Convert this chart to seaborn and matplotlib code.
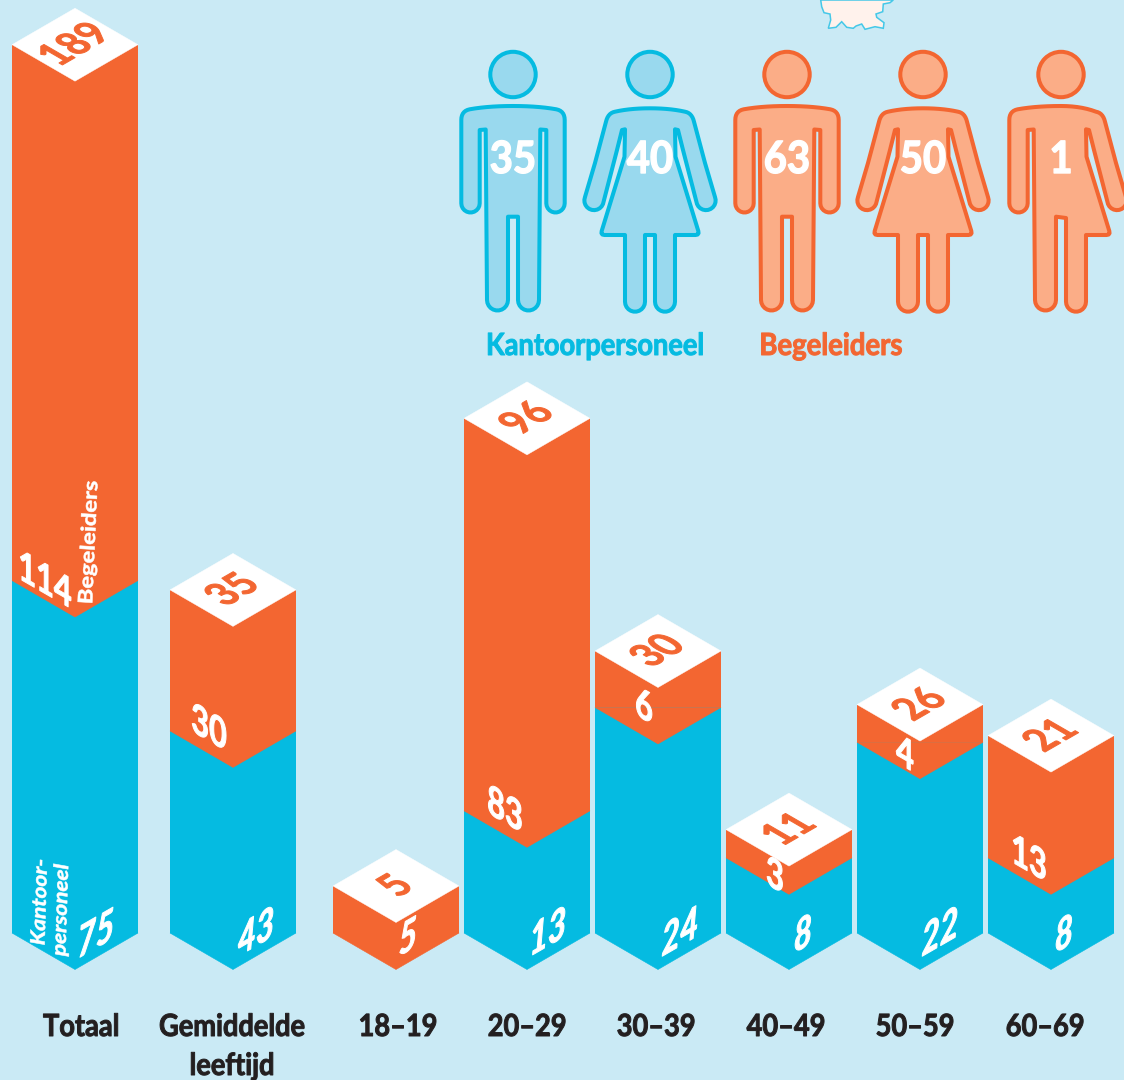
#!/usr/bin/env python
# encoding: utf-8

import numpy as np
import pandas as pd
import matplotlib
matplotlib.use("Agg")
import matplotlib.pyplot as plt
import seaborn as sns
from matplotlib.patches import Polygon, Circle
from matplotlib.patheffects import AbstractPathEffect
from matplotlib.transforms import Affine2D


# Values as printed in the chart
categories = ["Totaal", "Gemiddelde\nleeftijd", "18–19", "20–29", "30–39", "40–49", "50–59", "60–69"]
top_labels = [189, 35, 5, 96, 30, 11, 26, 21]
orange_labels = [114, 30, None, 83, 6, 3, 4, 13]
blue_labels = [75, 43, 5, 13, 24, 8, 22, 8]

# Heights as drawn. The original is not to one scale (age groups are doubled,
# the 83 is not), so these are read off the picture rather than the labels
blue_heights = [75, 43, 0, 26, 48, 16, 40.6, 16]
orange_heights = [114, 30, 10, 83.5, 12, 6, 8, 26]

people_labels = [35, 40, 63, 50, 1]

# Layout, in pixels of the 1124x1080 picture
BAR_X = [75, 233, 396, 527, 658, 789, 920, 1051]
BAR_W = 126
TICK_X = [81, 232, 398, 527, 656, 786, 915, 1045]
BASE_Y = 933
PX_PER_UNIT = 4.7
DEPTH = 36.5
ORANGE_OFFSET = [(-30, 1), (-24, -2), None, (-22, 0), (-14, 0), (-14, 19), (-15, 13), (-22, 2)]
BLUE_OFFSET = [(21, 2), (23, 0), (12, 5), (21, 0), (22, 0), (14, 2), (20, 0), (13, 2)]
PEOPLE_X = [513, 650, 787, 923, 1061]
PEOPLE_KIND = ["man", "woman", "man", "woman", "mixed"]

BG = "#CAEAF5"
ORANGE = "#F36631"
BLUE = "#05BBE1"
ORANGE_SOFT = "#FBAD87"
BLUE_SOFT = "#99D9EE"
DARK = "#231F20"
FONT = "Lato"


class Warp(AbstractPathEffect):
    """Applies a 2x2 matrix to the glyphs of a text, around the text's anchor,
    and fattens them a bit since the font here is lighter than the original"""

    def __init__(self, text, a, b, c, d, stroke):
        super().__init__()
        self.text = text
        self.stroke = stroke
        self.m = np.array([[a, b, 0], [c, d, 0], [0, 0, 1.0]])

    def draw_path(self, renderer, gc, tpath, affine, rgbFace=None):
        x, y = self.text.get_transform().transform(self.text.get_position())
        warp = Affine2D().translate(-x, -y) + Affine2D(self.m) + Affine2D().translate(x, y)
        gc0 = renderer.new_gc()
        gc0.copy_properties(gc)
        gc0.set_foreground(rgbFace)
        gc0.set_linewidth(self.stroke)
        renderer.draw_path(gc0, tpath, affine + warp, rgbFace)
        gc0.restore()


def put_text(ax, x, y, s, size, color, m=(0.85, 0, 0, 1), stroke=0.7, **kw):
    t = ax.text(x, y, s, fontsize=size, color=color, fontfamily=FONT, fontweight="bold",
                ha=kw.pop("ha", "center"), va=kw.pop("va", "center"), **kw)
    t.set_path_effects([Warp(t, *m, stroke)])
    return t


def cap(p0, p1, n=12):
    # semicircle from p0 to p1 bulging downwards on the picture
    p0, p1 = np.array(p0, float), np.array(p1, float)
    c = (p0 + p1) / 2
    r = np.linalg.norm(p1 - p0) / 2
    u = (p0 - c) / r
    nrm = np.array([-u[1], u[0]])
    if nrm[1] < 0:
        nrm = -nrm
    return [tuple(c + r * (np.cos(t) * u + np.sin(t) * nrm)) for t in np.linspace(0, np.pi, n)]


def bend(p0, p1, p2, n=8):
    # quadratic corner
    p0, p1, p2 = [np.array(p, float) for p in (p0, p1, p2)]
    return [tuple((1 - t) ** 2 * p0 + 2 * t * (1 - t) * p1 + t ** 2 * p2) for t in np.linspace(0, 1, n)]


def man_half():
    pts = bend((0, 106), (25, 106), (43.3, 109.3))
    pts += bend((43.3, 109.3), (51.7, 111), (51.7, 120))
    pts += cap((51.7, 203.3), (33.3, 203.3))
    pts += [(33.3, 130), (27.3, 129.5)]
    pts += cap((26, 300), (5, 300))
    pts += [(5, 216.7)]
    return pts


def woman_half(crotch=235.0, top=108.3):
    pts = bend((0, top), (20, top), (35, 111.7))
    pts += bend((35, 111.7), (42, 113), (44, 121.7))
    pts += [(55, 163)]
    pts += cap((65, 197), (47, 204))
    pts += [(33, 150), (28, 130), (25, 129.3), (25.5, 156.7), (48.3, 231)]
    pts += bend((48.3, 231), (49.5, 235), (45.5, 235), 4)
    pts += [(25, 235)]
    pts += cap((25, 301.7), (5, 301.7))
    pts += [(5, crotch)]
    return pts


def mirror(pts):
    return [(-x, y) for x, y in reversed(pts)]


def draw_person(ax, cx, kind, fill, edge):
    if kind == "man":
        right, left = man_half(), mirror(man_half())
    elif kind == "woman":
        right, left = woman_half(), mirror(woman_half())
    else:
        right, left = woman_half(218.0, 106.0), mirror(man_half())
    pts = [(cx + x, y) for x, y in right + left]
    ax.add_patch(Polygon(pts, closed=True, fc=fill, ec=edge, lw=2.9, joinstyle="round"))
    ax.add_patch(Circle((cx, 74.5), 22.7, fc=fill, ec=edge, lw=2.9))


def main():
    sns.set_style("white")
    plt.rcParams["font.family"] = [FONT, "DejaVu Sans"]

    fig = plt.figure(figsize=(11.24, 10.8), dpi=100, facecolor=BG)
    ax = fig.add_axes([0, 0, 1, 1])
    ax.set_facecolor(BG)

    blue = np.array(blue_heights, float)
    total = blue + np.array(orange_heights, float)
    df = pd.DataFrame({"x": BAR_X, "blue": blue, "total": total})

    # stacked bars: the full height in orange, blue over it
    sns.barplot(data=df, x="x", y="total", native_scale=True, color=ORANGE, saturation=1,
                width=BAR_W / 131, errorbar=None, linewidth=0, ax=ax, zorder=2)
    sns.barplot(data=df, x="x", y="blue", native_scale=True, color=BLUE, saturation=1,
                width=BAR_W / 131, errorbar=None, linewidth=0, ax=ax, zorder=3)

    ax.set_xlim(0, 1124)
    ax.set_ylim(-(1080 - BASE_Y) / PX_PER_UNIT, BASE_Y / PX_PER_UNIT)
    ax.set_axis_off()

    # isometric ends of each bar, built on the bar heights
    d = DEPTH / PX_PER_UNIT
    h = BAR_W / 2
    for x, b, t in zip(BAR_X, blue, total):
        if b > 0:
            ax.add_patch(Polygon([(x - h, 0), (x + h, 0), (x, -d)], fc=BLUE, ec=BLUE, lw=0.4, zorder=4))
        ax.add_patch(Polygon([(x - h, b), (x + h, b), (x, b - d)], fc=ORANGE, ec=ORANGE, lw=0.4, zorder=5))
        ax.add_patch(Polygon([(x - h, t), (x, t + d), (x + h, t), (x, t - d)], fc="white", ec="white", lw=0.3, zorder=6))

    # projection of the text onto the three faces of a block
    top_face = (0.866 * 0.85, -0.866 * 1.0, 0.5 * 0.85, 0.5 * 1.0)
    left_face = (0.866 * 0.85, 0, -0.5 * 0.85, 1)
    right_face = (0.866 * 0.85, 0, 0.5 * 0.85, 1)

    for i, x in enumerate(BAR_X):
        put_text(ax, x, total[i], str(top_labels[i]), 31, ORANGE, m=top_face, zorder=8)
        if orange_labels[i] is not None:
            dx, dy = ORANGE_OFFSET[i]
            put_text(ax, x + dx, blue[i] - dy / PX_PER_UNIT, str(orange_labels[i]), 30, "white",
                     m=left_face, zorder=8)
        dx, dy = BLUE_OFFSET[i]
        put_text(ax, x + dx, -dy / PX_PER_UNIT, str(blue_labels[i]), 31, "white", m=right_face,
                 style="italic", zorder=8)

    # everything else is placed in picture pixels
    px = fig.add_axes([0, 0, 1, 1])
    px.set_xlim(0, 1124)
    px.set_ylim(1080, 0)
    px.set_axis_off()
    px.patch.set_visible(False)

    for x, label in zip(TICK_X, categories):
        lines = label.split("\n")
        put_text(px, x, 1027, lines[0], 22, DARK, m=(0.89, 0, 0, 1))
        if len(lines) > 1:
            put_text(px, x, 1066, lines[1], 22, DARK, m=(0.89, 0, 0, 1))

    for x, kind, n, i in zip(PEOPLE_X, PEOPLE_KIND, people_labels, range(5)):
        if i < 2:
            draw_person(px, x, kind, BLUE_SOFT, BLUE)
        else:
            draw_person(px, x, kind, ORANGE_SOFT, ORANGE)
        put_text(px, x, 160, str(n), 32, "white", m=(0.9, 0, 0, 1), stroke=1.0, zorder=5)

    put_text(px, 595, 346, "Kantoorpersoneel", 22, BLUE, m=(0.89, 0, 0, 1))
    put_text(px, 831, 346, "Begeleiders", 22, ORANGE, m=(0.9, 0, 0, 1))

    # small inner labels on the Totaal bar
    put_text(px, 89, 542, "Begeleiders", 16, "white", m=(0.9, 0, 0, 1.07), stroke=0.4, rotation=87, zorder=5)
    put_text(px, 40, 902, "Kantoor-", 16, "white", m=(0.9, 0, 0, 1.02), stroke=0.4, rotation=88, style="italic", zorder=5)
    put_text(px, 61, 910, "personeel", 16, "white", m=(0.9, 0, 0, 1.02), stroke=0.4, rotation=88, style="italic", zorder=5)

    # piece of the map at the top edge
    blob = [(820.7, 0), (821.7, 6.7), (824, 12.7), (830, 14), (830.7, 20), (828.3, 28.3), (836, 27.3),
            (841.7, 21.7), (846.7, 27.3), (853.3, 28.3), (856, 26), (861.7, 24), (865, 29.3), (875, 26.7),
            (883.3, 28.3), (884, 22.7), (876.7, 17.3), (876, 14), (882.7, 11.7), (883.3, 4), (890, 2.7), (893.3, 0)]
    px.add_patch(Polygon(blob, closed=True, fc="#FFF2EC", ec="#45C8E8", lw=1.1))

    fig.savefig("out.png", dpi=100, facecolor=BG)


if __name__ == '__main__':
    main()
